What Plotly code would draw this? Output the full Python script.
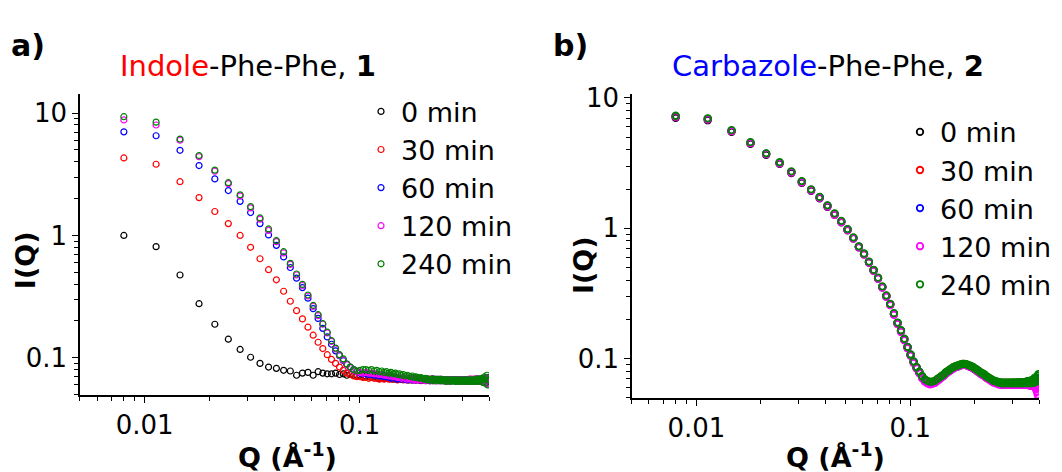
import plotly.graph_objects as go

# page has an 8px body margin: figure is sized/offset so that it maps onto the 1062x472 window
OFF = 8
W, H = 1062 - OFF, 472 - OFF

# ---------------- data ----------------
Q = [0.0080, 0.0113, 0.0146, 0.0179, 0.0212, 0.0245, 0.0278, 0.0311, 0.0344, 0.0377,
     0.0410, 0.0443, 0.0476, 0.0509, 0.0542, 0.0575, 0.0608, 0.0641, 0.0674, 0.0707,
     0.0740, 0.0773, 0.0806, 0.0839, 0.0872, 0.0905, 0.0938, 0.0971, 0.1004, 0.1037,
     0.1070, 0.1103, 0.1136, 0.1169, 0.1202, 0.1235, 0.1268, 0.1301, 0.1334, 0.1367,
     0.1400, 0.1433, 0.1466, 0.1499, 0.1532, 0.1565, 0.1598, 0.1631, 0.1664, 0.1697,
     0.1730, 0.1763, 0.1796, 0.1829, 0.1862, 0.1895, 0.1928, 0.1961, 0.1994, 0.2027,
     0.2060, 0.2093, 0.2126, 0.2159, 0.2192, 0.2225, 0.2258, 0.2291, 0.2324, 0.2357,
     0.2390, 0.2423, 0.2456, 0.2489, 0.2522, 0.2555, 0.2588, 0.2621, 0.2654, 0.2687,
     0.2720, 0.2753, 0.2786, 0.2819, 0.2852, 0.2885, 0.2918, 0.2951, 0.2984, 0.3017,
     0.3050, 0.3083, 0.3116, 0.3149, 0.3182, 0.3215, 0.3248, 0.3281, 0.3314, 0.3347,
     0.3380, 0.3413, 0.3446, 0.3479, 0.3512, 0.3545, 0.3578, 0.3611, 0.3644, 0.3677,
     0.3710, 0.3743, 0.3776, 0.3809, 0.3842, 0.3875, 0.3908, 0.3941, 0.3974]

series_names = ["0 min", "30 min", "60 min", "120 min", "240 min"]
series_colors = ["#000000", "#ff0000", "#0000ff", "#ff00ff", "#008000"]

# Panel a: Indole-Phe-Phe
a_0 = [1.00, 0.81, 0.475, 0.277, 0.188, 0.142, 0.117, 0.101, 0.090, 0.084,
       0.082, 0.079, 0.078, 0.072, 0.075, 0.076, 0.072, 0.077, 0.075, 0.074,
       0.074, 0.075, 0.073, 0.074, 0.072, 0.073, 0.072, 0.071, 0.072, 0.070,
       0.071, 0.070, 0.069, 0.070, 0.069, 0.068, 0.069, 0.068, 0.069, 0.068,
       0.068, 0.067, 0.068, 0.067, 0.068, 0.067, 0.067, 0.068, 0.067, 0.066,
       0.067, 0.066, 0.067, 0.066, 0.067, 0.066, 0.066, 0.067, 0.066, 0.066,
       0.067, 0.066, 0.065, 0.066, 0.067, 0.066, 0.065, 0.066, 0.066, 0.065,
       0.066, 0.066, 0.065, 0.066, 0.065, 0.066, 0.066, 0.065, 0.066, 0.065,
       0.066, 0.065, 0.066, 0.066, 0.065, 0.066, 0.065, 0.066, 0.065, 0.066,
       0.065, 0.066, 0.065, 0.066, 0.064, 0.066, 0.065, 0.066, 0.065, 0.064,
       0.066, 0.065, 0.064, 0.066, 0.065, 0.067, 0.064, 0.065, 0.066, 0.064,
       0.066, 0.064, 0.067, 0.063, 0.066, 0.068, 0.062, 0.067, 0.064]
a_30 = [4.30, 3.82, 2.75, 2.04, 1.57, 1.25, 1.00, 0.80, 0.645, 0.525,
        0.434, 0.350, 0.290, 0.243, 0.208, 0.178, 0.153, 0.134, 0.119, 0.106,
        0.097, 0.090, 0.084, 0.079, 0.075, 0.073, 0.071, 0.070, 0.070, 0.069,
        0.069, 0.068, 0.069, 0.068, 0.068, 0.067, 0.068, 0.067, 0.068, 0.067,
        0.067, 0.068, 0.067, 0.066, 0.067, 0.068, 0.066, 0.067, 0.066, 0.067,
        0.066, 0.067, 0.066, 0.066, 0.067, 0.066, 0.065, 0.066, 0.067, 0.066,
        0.066, 0.065, 0.066, 0.067, 0.065, 0.066, 0.066, 0.065, 0.066, 0.066,
        0.065, 0.066, 0.066, 0.065, 0.066, 0.065, 0.066, 0.066, 0.065, 0.066,
        0.066, 0.065, 0.066, 0.065, 0.066, 0.066, 0.065, 0.066, 0.065, 0.066,
        0.065, 0.066, 0.066, 0.065, 0.066, 0.065, 0.067, 0.065, 0.066, 0.065,
        0.066, 0.065, 0.067, 0.065, 0.066, 0.064, 0.066, 0.065, 0.067, 0.065,
        0.066, 0.064, 0.067, 0.065, 0.068, 0.064, 0.066, 0.069, 0.063]
a_60 = [7.03, 6.53, 4.97, 3.73, 2.90, 2.33, 1.90, 1.54, 1.25, 1.01,
        0.830, 0.668, 0.547, 0.448, 0.375, 0.307, 0.252, 0.210, 0.174, 0.148,
        0.129, 0.114, 0.104, 0.095, 0.089, 0.084, 0.080, 0.077, 0.075, 0.074,
        0.074, 0.073, 0.073, 0.072, 0.072, 0.071, 0.071, 0.070, 0.070, 0.069,
        0.068, 0.069, 0.068, 0.067, 0.068, 0.067, 0.068, 0.067, 0.066, 0.067,
        0.067, 0.066, 0.067, 0.066, 0.067, 0.066, 0.066, 0.067, 0.066, 0.065,
        0.066, 0.066, 0.065, 0.066, 0.067, 0.065, 0.066, 0.065, 0.066, 0.066,
        0.065, 0.066, 0.065, 0.066, 0.066, 0.065, 0.066, 0.065, 0.066, 0.065,
        0.066, 0.065, 0.065, 0.066, 0.065, 0.066, 0.065, 0.066, 0.066, 0.065,
        0.066, 0.065, 0.066, 0.064, 0.066, 0.065, 0.066, 0.065, 0.064, 0.066,
        0.065, 0.066, 0.064, 0.066, 0.065, 0.067, 0.064, 0.066, 0.065, 0.064,
        0.067, 0.065, 0.064, 0.068, 0.064, 0.066, 0.069, 0.063, 0.067]
a_120 = [8.80, 8.00, 6.00, 4.40, 3.35, 2.65, 2.10, 1.68, 1.36, 1.10,
         0.890, 0.720, 0.580, 0.475, 0.390, 0.320, 0.263, 0.221, 0.188, 0.160,
         0.136, 0.118, 0.105, 0.096, 0.088, 0.083, 0.079, 0.077, 0.076, 0.075,
         0.076, 0.075, 0.075, 0.074, 0.074, 0.073, 0.073, 0.072, 0.072, 0.071,
         0.071, 0.070, 0.070, 0.069, 0.069, 0.068, 0.069, 0.068, 0.067, 0.068,
         0.067, 0.068, 0.066, 0.067, 0.066, 0.067, 0.066, 0.067, 0.066, 0.065,
         0.066, 0.067, 0.066, 0.065, 0.066, 0.066, 0.065, 0.066, 0.067, 0.065,
         0.066, 0.065, 0.066, 0.066, 0.065, 0.066, 0.064, 0.066, 0.065, 0.066,
         0.065, 0.066, 0.065, 0.064, 0.066, 0.065, 0.066, 0.065, 0.064, 0.066,
         0.066, 0.064, 0.065, 0.066, 0.065, 0.064, 0.066, 0.065, 0.067, 0.064,
         0.065, 0.067, 0.064, 0.066, 0.065, 0.064, 0.067, 0.065, 0.064, 0.066,
         0.064, 0.068, 0.065, 0.063, 0.067, 0.066, 0.062, 0.068, 0.061]
a_240 = [9.35, 8.44, 6.14, 4.50, 3.42, 2.70, 2.15, 1.72, 1.39, 1.13,
         0.908, 0.737, 0.591, 0.484, 0.398, 0.326, 0.268, 0.225, 0.190, 0.162,
         0.138, 0.120, 0.106, 0.098, 0.089, 0.084, 0.080, 0.078, 0.079, 0.080,
         0.080, 0.079, 0.080, 0.078, 0.079, 0.077, 0.078, 0.076, 0.077, 0.075,
         0.076, 0.074, 0.075, 0.073, 0.074, 0.072, 0.073, 0.071, 0.072, 0.071,
         0.070, 0.071, 0.069, 0.070, 0.069, 0.068, 0.069, 0.068, 0.067, 0.068,
         0.066, 0.067, 0.066, 0.067, 0.065, 0.066, 0.067, 0.066, 0.065, 0.066,
         0.067, 0.065, 0.066, 0.066, 0.064, 0.066, 0.065, 0.066, 0.064, 0.066,
         0.065, 0.066, 0.064, 0.066, 0.065, 0.064, 0.066, 0.065, 0.064, 0.066,
         0.065, 0.064, 0.066, 0.065, 0.066, 0.064, 0.065, 0.066, 0.064, 0.065,
         0.066, 0.064, 0.065, 0.067, 0.064, 0.066, 0.065, 0.067, 0.064, 0.066,
         0.068, 0.063, 0.067, 0.070, 0.062, 0.069, 0.072, 0.060, 0.066]

# Panel b: Carbazole-Phe-Phe
b_0 = [7.05, 6.75, 5.50, 4.45, 3.66, 3.12, 2.65, 2.23, 1.94, 1.70,
       1.46, 1.27, 1.11, 0.965, 0.835, 0.715, 0.630, 0.546, 0.473, 0.412,
       0.352, 0.300, 0.259, 0.219, 0.186, 0.162, 0.140, 0.1215, 0.106, 0.094,
       0.085, 0.078, 0.072, 0.068, 0.066, 0.065, 0.065, 0.066, 0.068, 0.070,
       0.072, 0.074, 0.077, 0.079, 0.081, 0.083, 0.085, 0.086, 0.087, 0.088,
       0.089, 0.090, 0.090, 0.089, 0.088, 0.087, 0.086, 0.085, 0.083, 0.082,
       0.080, 0.079, 0.077, 0.076, 0.075, 0.074, 0.072, 0.071, 0.070, 0.069,
       0.068, 0.067, 0.066, 0.066, 0.065, 0.065, 0.064, 0.064, 0.064, 0.063,
       0.064, 0.063, 0.063, 0.064, 0.063, 0.063, 0.064, 0.063, 0.063, 0.064,
       0.063, 0.064, 0.063, 0.063, 0.064, 0.063, 0.064, 0.063, 0.064, 0.063,
       0.064, 0.063, 0.064, 0.063, 0.065, 0.063, 0.064, 0.065, 0.062, 0.064,
       0.063, 0.066, 0.062, 0.065, 0.060, 0.064, 0.061, 0.066, 0.063]
b_30 = [7.20, 6.88, 5.58, 4.52, 3.72, 3.17, 2.70, 2.27, 1.97, 1.72,
        1.48, 1.28, 1.12, 0.975, 0.840, 0.720, 0.634, 0.550, 0.476, 0.414,
        0.354, 0.302, 0.261, 0.220, 0.187, 0.163, 0.141, 0.122, 0.1065, 0.094,
        0.0855, 0.079, 0.073, 0.069, 0.067, 0.066, 0.066, 0.067, 0.069, 0.071,
        0.073, 0.075, 0.078, 0.080, 0.082, 0.084, 0.086, 0.087, 0.088, 0.089,
        0.090, 0.091, 0.090, 0.090, 0.089, 0.088, 0.087, 0.086, 0.084, 0.083,
        0.081, 0.080, 0.078, 0.077, 0.076, 0.075, 0.073, 0.072, 0.071, 0.070,
        0.069, 0.068, 0.067, 0.067, 0.066, 0.066, 0.065, 0.065, 0.065, 0.064,
        0.065, 0.064, 0.065, 0.065, 0.064, 0.065, 0.065, 0.064, 0.065, 0.065,
        0.064, 0.065, 0.065, 0.064, 0.065, 0.064, 0.065, 0.065, 0.066, 0.064,
        0.065, 0.066, 0.065, 0.064, 0.066, 0.065, 0.067, 0.065, 0.064, 0.066,
        0.065, 0.067, 0.064, 0.066, 0.068, 0.065, 0.069, 0.066, 0.070]
b_60 = [7.22, 6.90, 5.60, 4.54, 3.73, 3.18, 2.70, 2.28, 1.97, 1.73,
        1.49, 1.29, 1.13, 0.978, 0.843, 0.722, 0.636, 0.551, 0.477, 0.415,
        0.355, 0.302, 0.261, 0.221, 0.188, 0.164, 0.141, 0.1225, 0.107, 0.0945,
        0.0857, 0.0785, 0.0725, 0.0685, 0.0665, 0.0655, 0.0655, 0.0665, 0.0685, 0.0705,
        0.0725, 0.075, 0.0775, 0.0795, 0.0815, 0.0835, 0.0855, 0.0865, 0.0875, 0.0885,
        0.0895, 0.090, 0.090, 0.0895, 0.0885, 0.0875, 0.0865, 0.0855, 0.0835, 0.0825,
        0.0805, 0.0795, 0.0775, 0.0765, 0.0755, 0.0745, 0.0725, 0.0715, 0.0705, 0.0695,
        0.0685, 0.0675, 0.0665, 0.0665, 0.0655, 0.0655, 0.0645, 0.0645, 0.0645, 0.0635,
        0.0645, 0.0635, 0.064, 0.0645, 0.0635, 0.064, 0.0645, 0.0635, 0.064, 0.0645,
        0.0635, 0.0645, 0.064, 0.0635, 0.0645, 0.064, 0.0645, 0.0635, 0.0645, 0.064,
        0.0645, 0.0635, 0.0645, 0.064, 0.0655, 0.0635, 0.0645, 0.0655, 0.0635, 0.0655,
        0.064, 0.066, 0.0635, 0.0675, 0.065, 0.068, 0.064, 0.069, 0.071]
b_120 = [7.18, 6.85, 5.56, 4.50, 3.70, 3.15, 2.68, 2.25, 1.95, 1.71,
         1.47, 1.27, 1.115, 0.968, 0.835, 0.714, 0.628, 0.545, 0.471, 0.410,
         0.350, 0.298, 0.257, 0.217, 0.184, 0.160, 0.138, 0.120, 0.105, 0.0925,
         0.084, 0.077, 0.0705, 0.0665, 0.0645, 0.0635, 0.064, 0.065, 0.067, 0.069,
         0.0715, 0.0735, 0.0765, 0.0785, 0.0805, 0.0825, 0.0845, 0.086, 0.087, 0.088,
         0.089, 0.0895, 0.0895, 0.089, 0.088, 0.087, 0.086, 0.085, 0.083, 0.082,
         0.080, 0.079, 0.077, 0.0755, 0.0745, 0.0735, 0.0715, 0.0705, 0.0695, 0.0685,
         0.0675, 0.0665, 0.0655, 0.0655, 0.0645, 0.0645, 0.0635, 0.0635, 0.0635, 0.063,
         0.0635, 0.063, 0.063, 0.0635, 0.063, 0.063, 0.0635, 0.063, 0.063, 0.0635,
         0.063, 0.0635, 0.063, 0.063, 0.0635, 0.063, 0.0635, 0.063, 0.0635, 0.063,
         0.0635, 0.063, 0.0635, 0.063, 0.064, 0.0625, 0.0635, 0.063, 0.062, 0.063,
         0.062, 0.063, 0.061, 0.062, 0.060, 0.058, 0.056, 0.053, 0.050]
b_240 = [7.30, 6.98, 5.66, 4.58, 3.76, 3.21, 2.73, 2.30, 1.99, 1.74,
         1.50, 1.30, 1.14, 0.985, 0.850, 0.727, 0.640, 0.555, 0.480, 0.418,
         0.358, 0.305, 0.263, 0.223, 0.189, 0.165, 0.142, 0.123, 0.1075, 0.095,
         0.086, 0.0795, 0.0735, 0.0695, 0.0675, 0.0665, 0.0665, 0.0675, 0.0695, 0.0715,
         0.0735, 0.0755, 0.0785, 0.0805, 0.0825, 0.0845, 0.0865, 0.0875, 0.0885, 0.0895,
         0.0905, 0.091, 0.091, 0.0905, 0.0895, 0.0885, 0.0875, 0.0865, 0.0845, 0.0835,
         0.0815, 0.0805, 0.0785, 0.0775, 0.0765, 0.0755, 0.0735, 0.0725, 0.0715, 0.0705,
         0.0695, 0.0685, 0.0675, 0.0675, 0.0665, 0.0665, 0.0655, 0.0655, 0.0655, 0.0645,
         0.0655, 0.0645, 0.065, 0.0655, 0.0645, 0.065, 0.0655, 0.0645, 0.065, 0.0655,
         0.0645, 0.0655, 0.065, 0.0645, 0.066, 0.0645, 0.0655, 0.065, 0.066, 0.0645,
         0.0655, 0.065, 0.066, 0.0645, 0.067, 0.065, 0.066, 0.0675, 0.0645, 0.068,
         0.0655, 0.069, 0.065, 0.071, 0.0665, 0.072, 0.067, 0.074, 0.076]

panel_a = [a_0, a_30, a_60, a_120, a_240]
panel_b = [b_0, b_30, b_60, b_120, b_240]

x_major = [0.01, 0.1]
x_major_text = ["0.01", "0.1"]
y_major = [0.1, 1, 10]
y_major_text = ["0.1", "1", "10"]
x_minor = [0.005, 0.006, 0.007, 0.008, 0.009, 0.02, 0.03, 0.04, 0.05, 0.06, 0.07, 0.08, 0.09,
           0.2, 0.3, 0.4]
y_minor = [0.05, 0.06, 0.07, 0.08, 0.09, 0.2, 0.3, 0.4, 0.5, 0.6, 0.7, 0.8, 0.9,
           2, 3, 4, 5, 6, 7, 8, 9]

FONT = "DejaVu Sans, Liberation Sans, Arial, sans-serif"

fig = go.Figure()
for ys, name, col in zip(panel_a, series_names, series_colors):
    fig.add_trace(go.Scatter(x=Q, y=ys, mode="markers", name=name,
                             marker=dict(symbol="circle-open", size=6, color=col,
                                         line=dict(width=1.2, color=col)),
                             xaxis="x", yaxis="y", legend="legend"))
for ys, name, col in zip(panel_b, series_names, series_colors):
    fig.add_trace(go.Scatter(x=Q, y=ys, mode="markers", name=name,
                             marker=dict(symbol="circle-open", size=6.5, color=col,
                                         line=dict(width=1.8, color=col)),
                             xaxis="x2", yaxis="y2", legend="legend2"))


def px_x(p):
    return (p - OFF) / W


def px_y(p):
    return 1 - (p - OFF) / H


axis_common = dict(type="log", showgrid=False, zeroline=False, showline=True,
                   linecolor="black", linewidth=1.5, ticks="outside", ticklen=6,
                   tickwidth=1.3, tickcolor="black", mirror=False,
                   tickfont=dict(family=FONT, size=26, color="black"))

xa = dict(axis_common, range=[-2.301, -0.398], tickmode="array", tickvals=x_major,
          ticktext=x_major_text,
          minor=dict(tickmode="array", tickvals=x_minor, ticks="outside", ticklen=4,
                     tickwidth=1.2, tickcolor="black", showgrid=False))
ya = dict(axis_common, tickmode="array", tickvals=y_major, ticktext=y_major_text,
          minor=dict(tickmode="array", tickvals=y_minor, ticks="outside", ticklen=4,
                     tickwidth=1.2, tickcolor="black", showgrid=False))

fig.update_layout(
    width=W, height=H, margin=dict(l=0, r=0, t=0, b=0),
    paper_bgcolor="white", plot_bgcolor="white",
    font=dict(family=FONT, color="black"),
    xaxis=dict(xa, domain=[px_x(80), px_x(489)], anchor="y"),
    yaxis=dict(ya, domain=[px_y(393), px_y(85)], anchor="x", range=[-1.303, 1.155]),
    xaxis2=dict(xa, domain=[px_x(632), px_x(1039)], anchor="y2"),
    yaxis2=dict(ya, domain=[px_y(396), px_y(85)], anchor="x2", range=[-1.301, 1.029]),
    legend=dict(x=px_x(361), y=px_y(78), xanchor="left", yanchor="top",
                bgcolor="rgba(0,0,0,0)", font=dict(family=FONT, size=27, color="black")),
    legend2=dict(x=px_x(900), y=px_y(99), xanchor="left", yanchor="top",
                 bgcolor="rgba(0,0,0,0)", font=dict(family=FONT, size=27, color="black")),
    showlegend=True,
)

ann = [
    dict(text="<b>a)</b>", x=px_x(28), y=px_y(35), size=30),
    dict(text="<span style='color:#ff0000'>Indole</span>-Phe-Phe, <b>1</b>", x=px_x(248), y=px_y(56), size=29),
    dict(text="<b>b)</b>", x=px_x(570), y=px_y(35), size=30),
    dict(text="<span style='color:#0000ff'>Carbazole</span>-Phe-Phe, <b>2</b>", x=px_x(828), y=px_y(56), size=29),
    dict(text="<b>Q (Å<sup>-1</sup>)</b>", x=px_x(287), y=px_y(455), size=27),
    dict(text="<b>Q (Å<sup>-1</sup>)</b>", x=px_x(835), y=px_y(455), size=27),
]
for a in ann:
    fig.add_annotation(text=a["text"], x=a["x"], y=a["y"], xref="paper", yref="paper",
                       showarrow=False, xanchor="center", yanchor="middle",
                       font=dict(family=FONT, size=a["size"], color="black"))
for xp, yp in [(25, 255), (583, 260)]:
    fig.add_annotation(text="<b>I(Q)</b>", x=px_x(xp), y=px_y(yp), xref="paper", yref="paper",
                       showarrow=False, textangle=-90, xanchor="center", yanchor="middle",
                       font=dict(family=FONT, size=27, color="black"))

fig.write_html("out.html")
